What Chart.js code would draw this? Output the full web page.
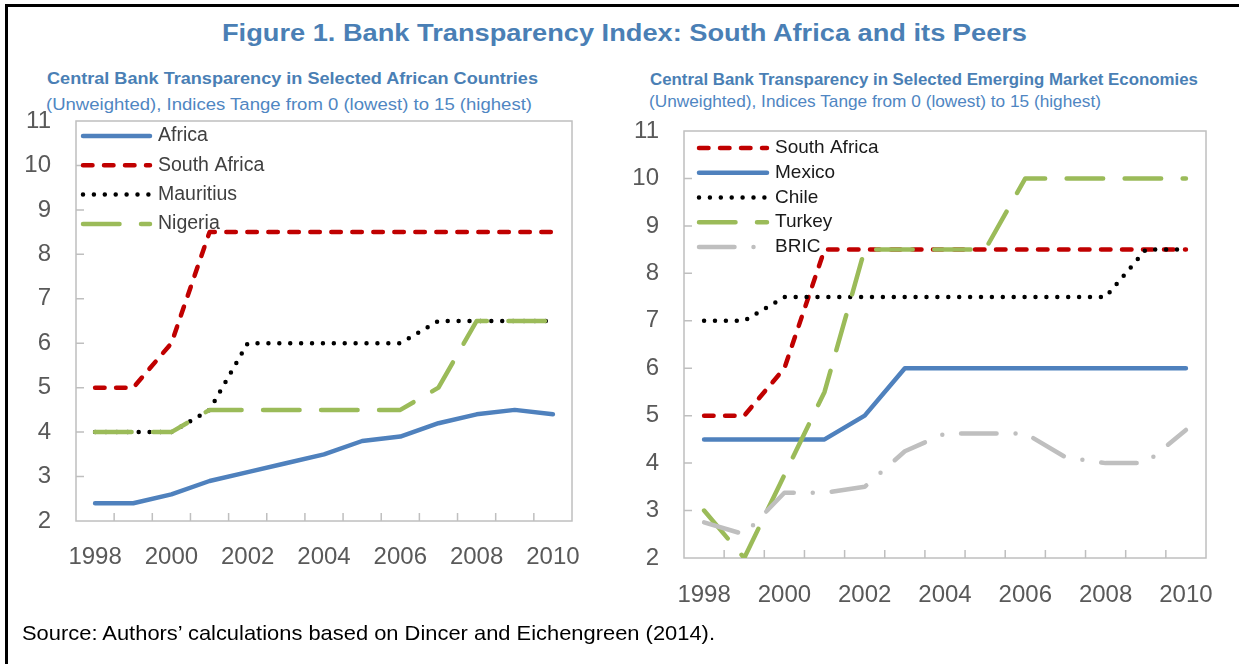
<!DOCTYPE html>
<html>
<head>
<meta charset="utf-8">
<script src="https://cdn.jsdelivr.net/npm/chart.js@4.4.0/dist/chart.umd.min.js"></script>
<style>
  body { margin: 0; background: #fff; width: 1239px; height: 664px; overflow: hidden; position: relative;
         font-family: 'Liberation Sans', Arial, sans-serif; }
  #frame { position: absolute; left: 5px; top: 4px; width: 1260px; height: 700px;
           border-top: 3px solid #000; border-left: 3px solid #000; }
  .txt { position: absolute; white-space: nowrap; line-height: 1; transform-origin: 0 50%; }
  .box { position: absolute; }
</style>
</head>
<body>
<div id="frame"></div>

<div class="txt" id="title" style="left:222px;top:21px;font-size:24.7px;font-weight:bold;color:#4a7fb5">Figure 1. Bank Transparency Index: South Africa and its Peers</div>

<div class="txt" id="subL1" style="left:47px;top:69.5px;font-size:16.3px;font-weight:bold;color:#4a7fb5">Central Bank Transparency in Selected African Countries</div>
<div class="txt" id="subL2" style="left:46px;top:95.5px;font-size:16.3px;color:#4f86c2">(Unweighted), Indices Tange from 0 (lowest) to 15 (highest)</div>

<div class="txt" id="subR1" style="left:650px;top:70.5px;font-size:17px;font-weight:bold;color:#4a7fb5">Central Bank Transparency in Selected Emerging Market Economies</div>
<div class="txt" id="subR2" style="left:649px;top:93px;font-size:17px;color:#4f86c2">(Unweighted), Indices Tange from 0 (lowest) to 15 (highest)</div>

<div class="box" style="left:0px;top:110px"><canvas id="chartLeft" width="590" height="480"></canvas></div>
<div class="box" style="left:610px;top:110px"><canvas id="chartRight" width="629" height="520"></canvas></div>

<div class="txt" id="source" style="left:22px;top:622px;font-size:21px;color:#000">Source: Authors’ calculations based on Dincer and Eichengreen (2014).</div>

<script>
// ---- data ----
const years = ['1998', '1999', '2000', '2001', '2002', '2003', '2004', '2005', '2006', '2007', '2008', '2009', '2010'];
const yearLabels = ['1998', '', '2000', '', '2002', '', '2004', '', '2006', '', '2008', '', '2010'];

// left panel: selected African countries
const africa      = [2.4, 2.4, 2.6, 2.9, 3.1, 3.3, 3.5, 3.8, 3.9, 4.2, 4.4, 4.5, 4.4];
const southAfrica = [5, 5, 6, 8.5, 8.5, 8.5, 8.5, 8.5, 8.5, 8.5, 8.5, 8.5, 8.5];
const mauritius   = [4, 4, 4, 4.5, 6, 6, 6, 6, 6, 6.5, 6.5, 6.5, 6.5];
const nigeria     = [4, 4, 4, 4.5, 4.5, 4.5, 4.5, 4.5, 4.5, 5, 6.5, 6.5, 6.5];

// right panel: selected emerging market economies
const mexico = [4.5, 4.5, 4.5, 4.5, 5, 6, 6, 6, 6, 6, 6, 6, 6];
const chile  = [7, 7, 7.5, 7.5, 7.5, 7.5, 7.5, 7.5, 7.5, 7.5, 7.5, 8.5, 8.5];
const turkey = [3, 2, 3.75, 5.5, 8.5, 8.5, 8.5, 8.5, 10, 10, 10, 10, 10];
const bric   = [2.75, 2.5, 3.375, 3.375, 3.5, 4.25, 4.625, 4.625, 4.625, 4.125, 4, 4, 4.7];

const yMin = 2, yMax = 11;

// ---- styles ----
const BLUE = '#4f81bd', RED = '#c00000', GREEN = '#9bbb59', BLACK = '#000000', GREY = '#bfbfbf';
const DASH_RED = [9.5, 11.5];
const DASH_DOT = [0, 10.9];
const DASH_LONG = [36.5, 21.5];
const DASH_BRIC = [35.5, 19, 0, 19];
const TICK_FONT = "'Liberation Sans', Arial, sans-serif";

function line(label, data, color, dash) {
  return {
    label: label,
    data: data,
    borderColor: color,
    backgroundColor: color,
    borderWidth: 4.5,
    borderDash: dash,
    borderCapStyle: 'round',
    borderJoinStyle: 'round',
    pointRadius: 0,
    tension: 0,
    fill: false
  };
}

// plot-area box + inward ticks like the Excel original
const excelFrame = {
  id: 'excelFrame',
  beforeDatasetsDraw(chart) {
    const ctx = chart.ctx, a = chart.chartArea;
    const x = chart.scales.x, y = chart.scales.y;
    ctx.save();
    ctx.strokeStyle = '#bfbfbf';
    ctx.lineWidth = 1.5;
    ctx.strokeRect(a.left, a.top, a.width, a.height);
    ctx.beginPath();
    for (let i = 1; i < x.ticks.length; i++) {
      const px = (x.getPixelForTick(i - 1) + x.getPixelForTick(i)) / 2;
      ctx.moveTo(px, a.bottom);
      ctx.lineTo(px, a.bottom - 8);
    }
    y.ticks.forEach(t => {
      if (t.value > y.min && t.value < y.max) {
        const py = y.getPixelForValue(t.value);
        ctx.moveTo(a.left, py);
        ctx.lineTo(a.left + 8, py);
      }
    });
    ctx.stroke();
    ctx.restore();
  }
};

// legend drawn inside the plot, one row per series
const innerLegend = {
  id: 'innerLegend',
  afterDatasetsDraw(chart, args, o) {
    const ctx = chart.ctx, a = chart.chartArea;
    chart.data.datasets.forEach((ds, i) => {
      const yy = a.top + o.top + i * o.gap;
      const x0 = a.left + o.left;
      ctx.save();
      ctx.strokeStyle = ds.borderColor;
      ctx.lineWidth = ds.borderWidth;
      ctx.lineCap = 'round';
      ctx.setLineDash(ds.borderDash || []);
      ctx.beginPath();
      ctx.moveTo(x0, yy);
      ctx.lineTo(x0 + o.len, yy);
      ctx.stroke();
      ctx.setLineDash([]);
      ctx.fillStyle = o.color;
      ctx.font = o.font;
      ctx.textAlign = 'left';
      ctx.textBaseline = 'middle';
      ctx.fillText(ds.label, a.left + o.text, yy);
      ctx.restore();
    });
  }
};

function makeChart(id, datasets, cfg) {
  // later series are painted on top, as in the original
  datasets.forEach((d, i) => { d.order = -i; });
  return new Chart(document.getElementById(id).getContext('2d'), {
    type: 'line',
    data: { labels: years, datasets: datasets },
    options: {
      responsive: false,
      animation: false,
      devicePixelRatio: 1,
      layout: { padding: cfg.padding },
      plugins: {
        legend: { display: false },
        tooltip: { enabled: false },
        innerLegend: cfg.legend
      },
      scales: {
        x: {
          type: 'category',
          offset: true,
          grid: { display: false, drawTicks: false },
          border: { display: false },
          ticks: {
            autoSkip: false, maxRotation: 0, padding: cfg.xPad, color: '#595959',
            font: { family: TICK_FONT, size: 24 },
            callback: (v, i) => yearLabels[i]
          },
          afterFit: s => { s.height = cfg.xHeight; s.paddingLeft = 0; s.paddingRight = 0; }
        },
        y: {
          min: yMin, max: yMax,
          grid: { display: false, drawTicks: false },
          border: { display: false },
          ticks: { stepSize: 1, padding: 25, color: '#595959', font: { family: TICK_FONT, size: 24 } },
          afterFit: s => { s.width = cfg.yWidth; s.paddingTop = 0; s.paddingBottom = 0; }
        }
      }
    },
    plugins: [excelFrame, innerLegend]
  });
}

makeChart('chartLeft', [
  line('Africa', africa, BLUE, []),
  line('South Africa', southAfrica, RED, DASH_RED),
  line('Mauritius', mauritius, BLACK, DASH_DOT),
  line('Nigeria', nigeria, GREEN, DASH_LONG)
], {
  padding: { left: 0, top: 11, right: 18, bottom: 9 },
  yWidth: 76, xHeight: 60, xPad: 22,
  legend: { left: 7, len: 67, text: 82, top: 15, gap: 29.3, color: '#404040', font: "19.5px 'Liberation Sans', Arial, sans-serif" }
});

makeChart('chartRight', [
  line('South Africa', southAfrica, RED, DASH_RED),
  line('Mexico', mexico, BLUE, []),
  line('Chile', chile, BLACK, DASH_DOT),
  line('Turkey', turkey, GREEN, DASH_LONG),
  line('BRIC', bric, GREY, DASH_BRIC)
], {
  padding: { left: 0, top: 21, right: 33, bottom: 10 },
  yWidth: 74, xHeight: 62, xPad: 23,
  legend: { left: 15, len: 68, text: 91, top: 17, gap: 24.75, color: '#1a1a1a', font: "19px 'Liberation Sans', Arial, sans-serif" }
});

// squeeze/stretch the HTML texts to the widths in the original
function fit(id, w) {
  const el = document.getElementById(id);
  const r = el.getBoundingClientRect().width;
  el.style.transform = 'scaleX(' + (w / r) + ')';
}
fit('title', 805);
fit('subL1', 491);
fit('subL2', 486);
fit('subR1', 548);
fit('subR2', 452);
fit('source', 693);
</script>
</body>
</html>
